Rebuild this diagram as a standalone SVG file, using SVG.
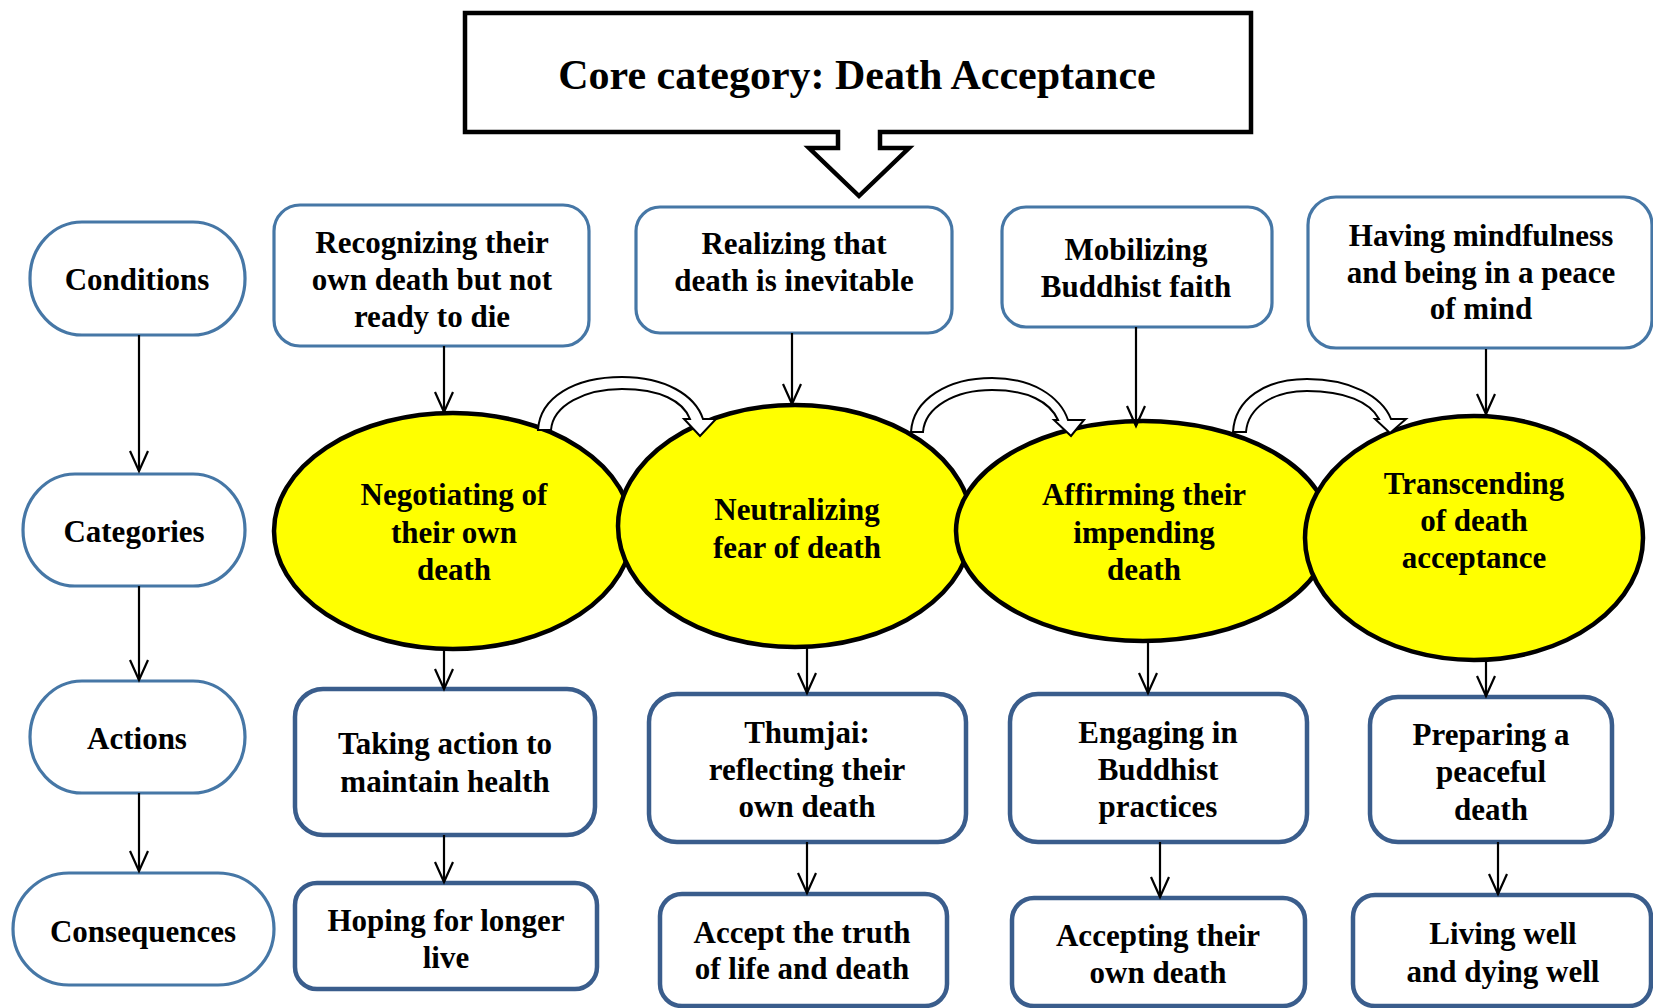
<svg xmlns="http://www.w3.org/2000/svg" width="1653" height="1008" viewBox="0 0 1653 1008">
<defs>
<marker id="ah" markerUnits="userSpaceOnUse" markerWidth="30" markerHeight="30" viewBox="-25 -15 30 30" refX="0" refY="0" orient="auto">
<path d="M-20,-9 L0,0 L-20,9" fill="none" stroke="#000" stroke-width="2.2"/>
</marker>
</defs>
<style>
text{font-family:"Liberation Serif","Times New Roman",serif;font-weight:bold;font-size:31px;fill:#000;text-anchor:middle}
.lab{fill:#fff;stroke:#4677A6;stroke-width:3.2}
.top{fill:#fff;stroke:#4677A6;stroke-width:3.2}
.bot{fill:#fff;stroke:#3A5D8C;stroke-width:4.5}
.ell{fill:#FFFF00;stroke:#000;stroke-width:4.5}
.con{fill:none;stroke:#000;stroke-width:2.2;marker-end:url(#ah)}
.curve{fill:#fff;stroke:#000;stroke-width:2}
</style>
<rect width="1653" height="1008" fill="#fff"/>

<g id="core">
<path d="M465,13 H1251 V132 H880 V148 H909 L859,196 L809,148 H838 V132 H465 Z" fill="#fff" stroke="#000" stroke-width="4.5"/>
<text x="857" y="89" style="font-size:42px">Core category: Death Acceptance</text>
</g>

<g id="label-conditions">
<rect class="lab" x="30" y="222" width="215" height="113" rx="52" ry="56"/>
<text x="137" y="290">Conditions</text>
</g>
<g id="label-categories">
<rect class="lab" x="23" y="474" width="222" height="112" rx="52" ry="56"/>
<text x="134" y="542">Categories</text>
</g>
<g id="label-actions">
<rect class="lab" x="30" y="681" width="215" height="112" rx="52" ry="56"/>
<text x="137" y="749">Actions</text>
</g>
<g id="label-consequences">
<rect class="lab" x="13" y="873" width="261" height="112" rx="56" ry="56"/>
<text x="143" y="942">Consequences</text>
</g>

<g id="cond1">
<rect class="top" x="274" y="205" width="315" height="141" rx="26"/>
<text x="432" y="253">Recognizing their</text>
<text x="432" y="290">own death but not</text>
<text x="432" y="327">ready to die</text>
</g>
<g id="cond2">
<rect class="top" x="636" y="207" width="316" height="126" rx="24"/>
<text x="794" y="254">Realizing that</text>
<text x="794" y="291">death is inevitable</text>
</g>
<g id="cond3">
<rect class="top" x="1002" y="207" width="270" height="120" rx="24"/>
<text x="1136" y="260">Mobilizing</text>
<text x="1136" y="297">Buddhist faith</text>
</g>
<g id="cond4">
<rect class="top" x="1308" y="197" width="344" height="151" rx="28"/>
<text x="1481" y="246">Having mindfulness</text>
<text x="1481" y="283">and being in a peace</text>
<text x="1481" y="319">of mind</text>
</g>

<g id="cat1">
<ellipse class="ell" cx="453" cy="531" rx="179" ry="118"/>
<text x="454" y="505">Negotiating of</text>
<text x="454" y="543">their own</text>
<text x="454" y="580">death</text>
</g>
<g id="cat2">
<ellipse class="ell" cx="795" cy="526" rx="177" ry="121"/>
<text x="797" y="520">Neutralizing</text>
<text x="797" y="558">fear of death</text>
</g>
<g id="cat3">
<ellipse class="ell" cx="1143" cy="531" rx="187" ry="110"/>
<text x="1144" y="505">Affirming their</text>
<text x="1144" y="543">impending</text>
<text x="1144" y="580">death</text>
</g>
<g id="cat4">
<ellipse class="ell" cx="1474" cy="538" rx="169" ry="122"/>
<text x="1474" y="494">Transcending</text>
<text x="1474" y="531">of death</text>
<text x="1474" y="568">acceptance</text>
</g>

<g id="act1">
<rect class="bot" x="295" y="689" width="300" height="146" rx="28"/>
<text x="445" y="754">Taking action to</text>
<text x="445" y="792">maintain health</text>
</g>
<g id="act2">
<rect class="bot" x="649" y="694" width="317" height="148" rx="28"/>
<text x="807" y="743">Thumjai:</text>
<text x="807" y="780">reflecting their</text>
<text x="807" y="817">own death</text>
</g>
<g id="act3">
<rect class="bot" x="1010" y="694" width="297" height="148" rx="28"/>
<text x="1158" y="743">Engaging in</text>
<text x="1158" y="780">Buddhist</text>
<text x="1158" y="817">practices</text>
</g>
<g id="act4">
<rect class="bot" x="1370" y="697" width="242" height="145" rx="28"/>
<text x="1491" y="745">Preparing a</text>
<text x="1491" y="782">peaceful</text>
<text x="1491" y="820">death</text>
</g>

<g id="csq1">
<rect class="bot" x="295" y="883" width="302" height="106" rx="22"/>
<text x="446" y="931">Hoping for longer</text>
<text x="446" y="968">live</text>
</g>
<g id="csq2">
<rect class="bot" x="660" y="894" width="287" height="112" rx="22"/>
<text x="802" y="943">Accept the truth</text>
<text x="802" y="979">of life and death</text>
</g>
<g id="csq3">
<rect class="bot" x="1012" y="898" width="293" height="108" rx="22"/>
<text x="1158" y="946">Accepting their</text>
<text x="1158" y="983">own death</text>
</g>
<g id="csq4">
<rect class="bot" x="1353" y="895" width="298" height="111" rx="22"/>
<text x="1503" y="944">Living well</text>
<text x="1503" y="982">and dying well</text>
</g>

<g id="connectors">
<line class="con" x1="139" y1="335" x2="139" y2="471"/>
<line class="con" x1="139" y1="586" x2="139" y2="680"/>
<line class="con" x1="139" y1="793" x2="139" y2="871"/>

<line class="con" x1="444" y1="346" x2="444" y2="412"/>
<line class="con" x1="792" y1="333" x2="792" y2="404"/>
<line class="con" x1="1136" y1="327" x2="1136" y2="426"/>
<line class="con" x1="1486" y1="349" x2="1486" y2="414"/>

<line class="con" x1="444" y1="649" x2="444" y2="689"/>
<line class="con" x1="807" y1="647" x2="807" y2="693"/>
<line class="con" x1="1148" y1="641" x2="1148" y2="693"/>
<line class="con" x1="1486" y1="660" x2="1486" y2="696"/>

<line class="con" x1="444" y1="835" x2="444" y2="882"/>
<line class="con" x1="807" y1="842" x2="807" y2="893"/>
<line class="con" x1="1160" y1="842" x2="1160" y2="897"/>
<line class="con" x1="1498" y1="842" x2="1498" y2="894"/>

<path class="curve" d="M538,430 C540,397 575,377 622,377 C665,377 695,395 703,419 L716,419 L700,436 L684,419 L690,419 C683,401 660,389 622,389 C585,389 553,405 551,430 Z"/>
<path class="curve" d="M911,432 C913,399 948,378 992,378 C1032,378 1060,396 1068,420 L1084,420 L1071,436 L1054,420 L1058,420 C1050,402 1028,390 992,390 C955,390 925,407 923,432 Z"/>
<path class="curve" d="M1233,432 C1235,399 1265,379 1307,379 C1350,379 1382,396 1391,419 L1406,419 L1390,433 L1375,419 L1379,419 C1370,402 1345,391 1307,391 C1272,391 1248,408 1246,432 Z"/>
</g>
</svg>
